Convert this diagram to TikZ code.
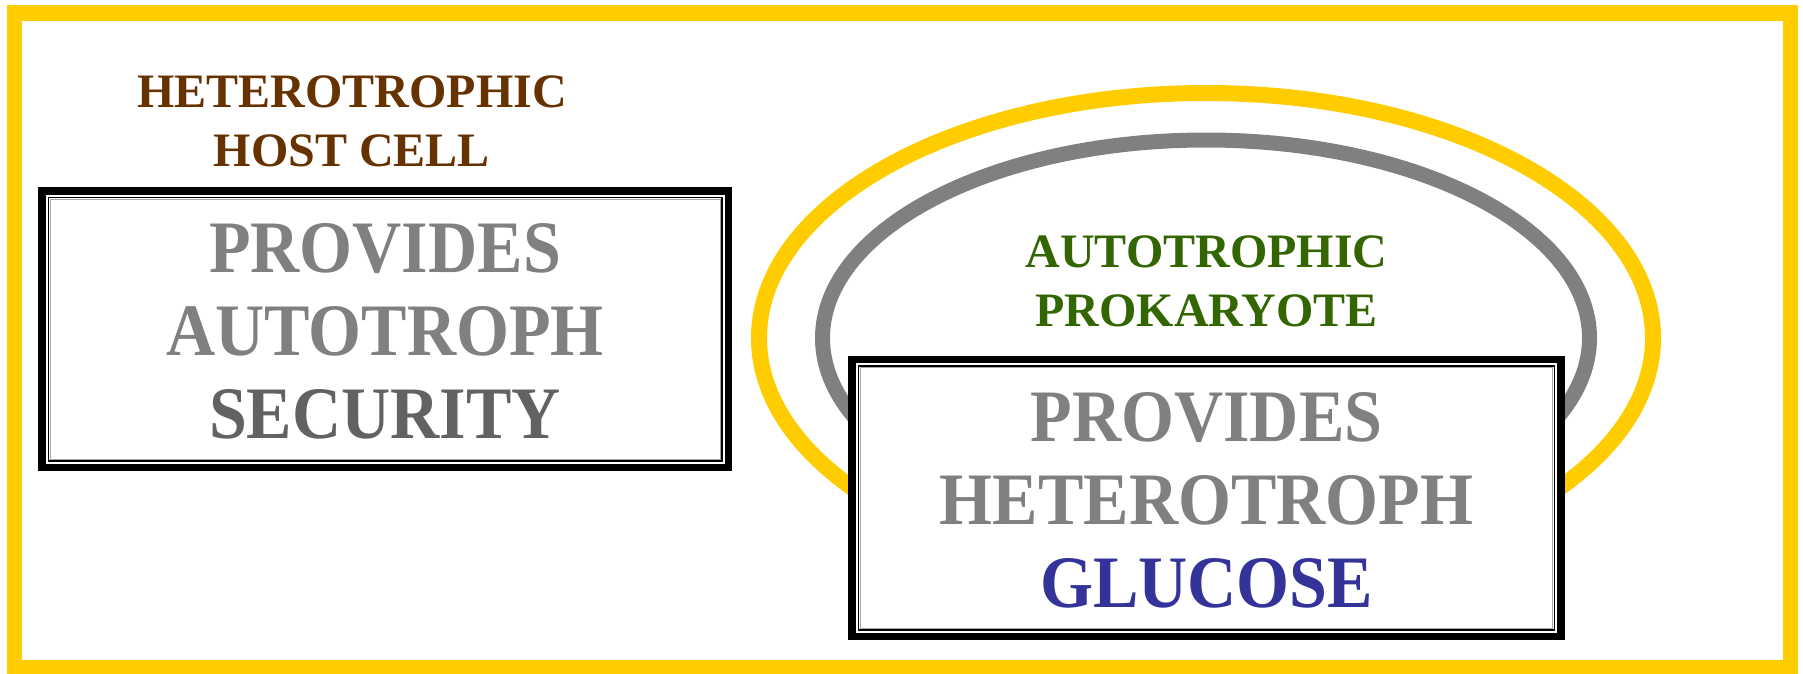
\documentclass[tikz,border=0pt]{standalone}
\usepackage{fontspec}
\setmainfont{Liberation Serif}
\newfontfamily\bigfont{Liberation Serif}[FakeStretch=0.92]
\definecolor{frameyellow}{HTML}{FFCC00}
\definecolor{ringgray}{HTML}{808080}
\definecolor{provgray}{HTML}{808080}
\definecolor{secgray}{HTML}{626262}
\definecolor{hostbrown}{HTML}{663300}
\definecolor{autogreen}{HTML}{336600}
\definecolor{glublue}{HTML}{333399}
\begin{document}
\begin{tikzpicture}[x=1pt,y=-1pt,
  lbl/.style={font=\fontsize{48}{58.5}\selectfont\bfseries, align=center, inner sep=0pt},
  big/.style={font=\bigfont\bfseries\fontsize{74}{83}\selectfont, align=center, inner sep=0pt, text=provgray},
  cellbox/.style={fill=white, draw=none, inner sep=0pt},
  thickedge/.style={draw=black, line width=7.5pt},
  thinedge/.style={draw=black, line width=1.4pt},
  hairedge/.style={draw=gray!70, line width=1pt}]
\useasboundingbox (0,0) rectangle (1803,673);
\fill[white] (0,0) rectangle (1803,673);
% outer frame
\draw[frameyellow, line width=15.5pt] (14.5,13) rectangle (1790.5,668);
% membranes
\draw[frameyellow, line width=16pt] (1206,338) ellipse [x radius=447, y radius=245];
\draw[ringgray, line width=15pt] (1206,338) ellipse [x radius=383.5, y radius=198];
% boxes
\node[cellbox, minimum width=693.7pt, minimum height=283.7pt] (lbox) at (385.15,329.15) {};
\node[cellbox, minimum width=716pt, minimum height=284pt] (rbox) at (1206.3,498) {};
\foreach \b in {lbox,rbox} {
  \draw[thickedge] ([shift={(3.75,3.75)}]\b.north west) rectangle ([shift={(-3.75,-3.75)}]\b.south east);
  \draw[thinedge] ([shift={(10.2,10.2)}]\b.north west) rectangle ([shift={(-10.2,-10.2)}]\b.south east);
  \draw[hairedge] ([shift={(11.9,11.9)}]\b.north west) rectangle ([shift={(-11.9,-11.9)}]\b.south east);
}
% labels
\node[lbl, text=hostbrown] (host) at (352,121.5) {HETEROTROPHIC\\HOST CELL};
\node[lbl, text=autogreen] (prok) at (1206.5,281.5) {AUTOTROPHIC\\PROKARYOTE};
% box texts
\node[big] (ltext) at (385,331.5) {PROVIDES\\AUTOTROPH\\\textcolor{secgray}{SECURITY}};
\node[big] (rtext) at (1206.5,500) {PROVIDES\\HETEROTROPH\\\textcolor{glublue}{GLUCOSE}};
\end{tikzpicture}
\end{document}
